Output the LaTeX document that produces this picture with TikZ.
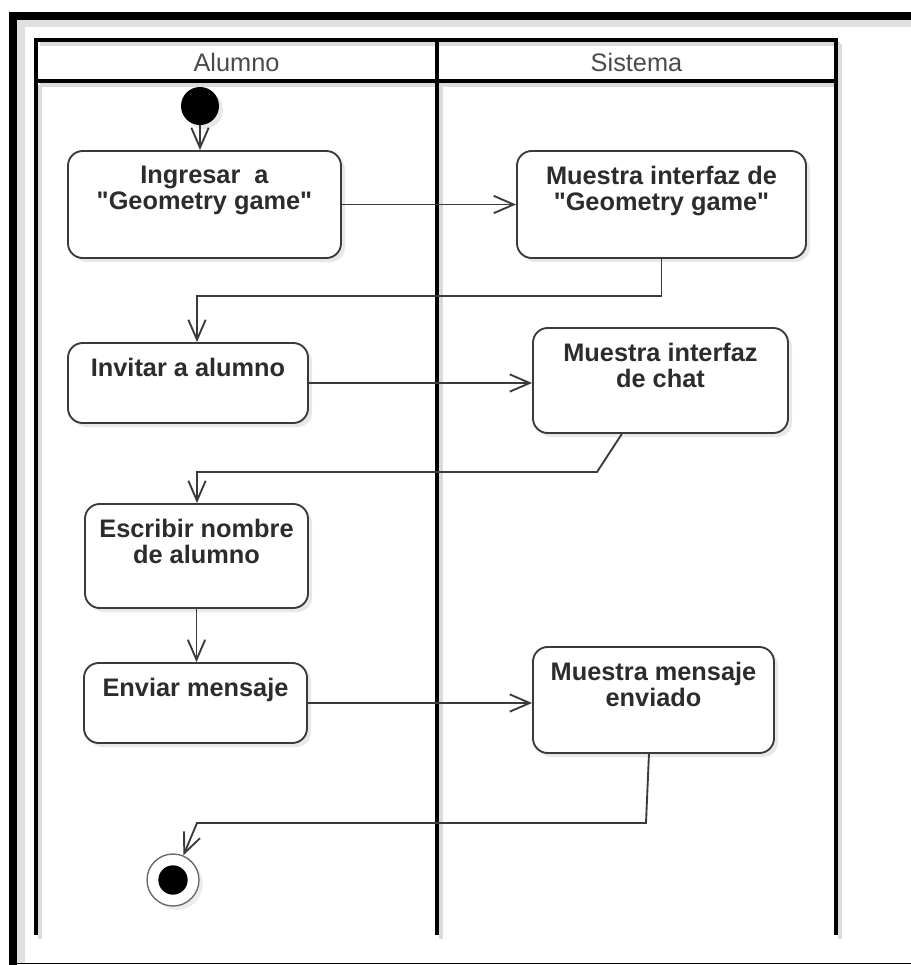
\documentclass[tikz,border=0pt]{standalone}
\usepackage{fontspec}
\setmainfont{Liberation Sans}
\usetikzlibrary{arrows.meta,shadows}
\definecolor{lineclr}{HTML}{3A3A3A}
\definecolor{textclr}{HTML}{2C2C2C}
\definecolor{titleclr}{HTML}{4A4A4A}
\newcommand\dq{\XeTeXglyph\XeTeXglyphindex"quotedbl" }
\tikzset{
  act/.style={rectangle, rounded corners=11pt, draw=lineclr, line width=1.4pt, fill=white, inner sep=0pt,
    drop shadow={shadow xshift=3pt, shadow yshift=-3pt, opacity=0.18}},
  acttext/.style={anchor=north, align=center, inner sep=0pt, text=textclr, font=\fontsize{19}{19}\selectfont\bfseries},
  flow/.style={draw=lineclr, line width=1.4pt, -{Straight Barb[length=15pt,width=13pt]}},
  lane/.style={line width=2.3pt},
  laneshade/.style={line width=3pt, black!14},
  lanetitle/.style={anchor=base, text=titleclr, font=\fontsize{19}{19}\selectfont},
  startst/.style={circle, fill=black, minimum size=28.5pt, inner sep=0pt,
    drop shadow={shadow xshift=3pt, shadow yshift=-3pt, opacity=0.18}},
  endst/.style={circle, draw=black!60, line width=1pt, fill=white, minimum size=39pt, inner sep=0pt,
    drop shadow={shadow xshift=3pt, shadow yshift=-3pt, opacity=0.15},
    path picture={\fill[black] (path picture bounding box.center) circle (11pt);}},
}
\begin{document}
\begin{tikzpicture}[x=0.75pt,y=-0.75pt]
\useasboundingbox (0,0) rectangle (911,965);
% frame
\fill[black!12] (17,20) rectangle (911,27);
\fill[black!12] (17,20) rectangle (25,963);
\draw[line width=6pt] (13,965) -- (13,16) -- (911,16);
\draw[line width=0.9pt] (17,963.5) -- (911,963.5);

% swimlanes
\draw[laneshade] (40,85) -- (40,939); \draw[laneshade] (441,85) -- (441,939); \draw[laneshade] (840,44) -- (840,939);
\draw[laneshade] (40,44) -- (840,44); \draw[laneshade] (40,85) -- (840,85);
\draw[lane] (36,935) -- (36,40) -- (836,40) -- (836,935);
\draw[lane] (36,81) -- (836,81);
\draw[lane] (437,40) -- (437,935);
\node[lanetitle] (alumno) at (236.5,71) {Alumno};
\node[lanetitle] (sistema) at (636.5,71) {Sistema};

% activities
\node[startst] (start) at (200,106) {};
\node[act, minimum width=204.75pt, minimum height=80.25pt] (ingresar) at (204.5,204.5) {};
\node[acttext] (ingresar-t) at ([yshift=-12pt]ingresar.north) {Ingresar\ \ a\\\dq Geometry game\dq};
\node[act, minimum width=216.75pt, minimum height=80.25pt] (muestraGeo) at (661.5,204.5) {};
\node[acttext] (muestraGeo-t) at ([yshift=-12pt]muestraGeo.north) {Muestra interfaz de\\\dq Geometry game\dq};
\node[act, minimum width=180pt, minimum height=60pt] (invitar) at (188,383) {};
\node[acttext] (invitar-t) at ([yshift=-12pt]invitar.north) {Invitar a alumno};
\node[act, minimum width=191.25pt, minimum height=78.75pt] (chat) at (660.5,380.5) {};
\node[acttext] (chat-t) at ([yshift=-12pt]chat.north) {Muestra interfaz\\de chat};
\node[act, minimum width=167.25pt, minimum height=78pt] (escribir) at (196.5,556) {};
\node[acttext] (escribir-t) at ([yshift=-12pt]escribir.north) {Escribir nombre\\de alumno};
\node[act, minimum width=167.25pt, minimum height=60pt] (enviar) at (195.5,703) {};
\node[acttext] (enviar-t) at ([yshift=-12pt]enviar.north) {Enviar mensaje};
\node[act, minimum width=180.75pt, minimum height=79.5pt] (mensaje) at (653.5,700) {};
\node[acttext] (mensaje-t) at ([yshift=-12pt]mensaje.north) {Muestra mensaje\\enviado};
\node[endst] (end) at (173,880) {};

% flows
\coordinate (k1) at (197,296);
\coordinate (k3) at (597,472);
\coordinate (k4) at (197,472);
\coordinate (k5) at (646,823);
\coordinate (k6) at (197,823);
\draw[flow] (start) -- (start |- ingresar.north);
\draw[flow] (ingresar.east) -- (muestraGeo.west);
\draw[flow] (muestraGeo.south) |- (k1) -- (k1 |- invitar.north);
\draw[flow] (invitar.east) -- (invitar.east -| chat.west);
\draw[flow] ([xshift=-29pt]chat.south) -- (k3) -- (k4) -- (k4 |- escribir.north);
\draw[flow] (escribir.south) -- (escribir.south |- enviar.north);
\draw[flow] (enviar.east) -- (enviar.east -| mensaje.west);
\draw[flow] ([xshift=-3.4pt]mensaje.south) -- (k5) -- (k6) -- (end);
\end{tikzpicture}
\end{document}
